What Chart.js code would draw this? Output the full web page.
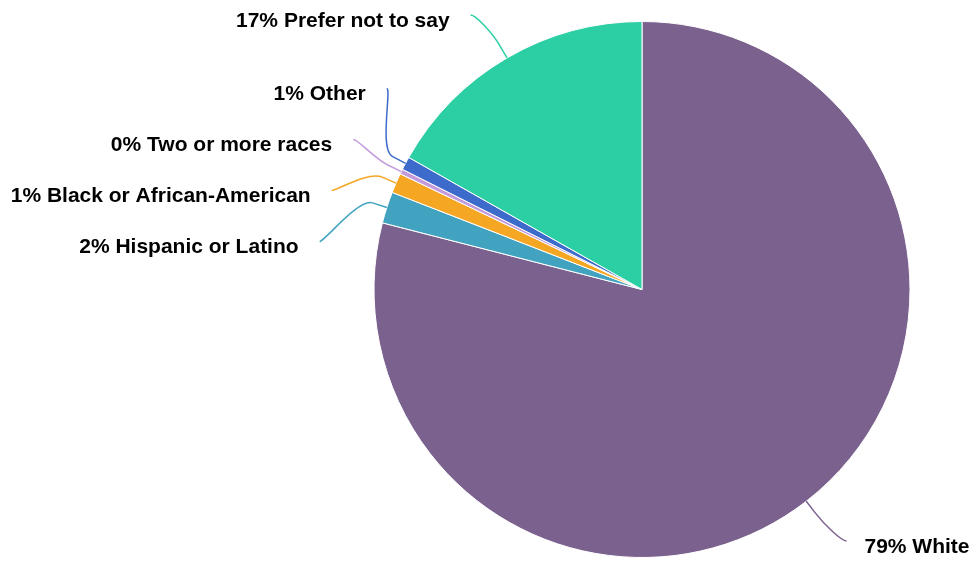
<!DOCTYPE html>
<html>
<head>
<meta charset="utf-8">
<script src="https://cdn.jsdelivr.net/npm/chart.js@4/dist/chart.umd.min.js"></script>
<style>
  html, body { margin: 0; padding: 0; background: #ffffff; }
  #wrap { width: 973px; height: 562px; position: relative; }
</style>
</head>
<body>
<div id="wrap"><canvas id="c" width="973" height="562"></canvas></div>
<script>
const categories = ['White', 'Hispanic or Latino', 'Black or African-American', 'Two or more races', 'Other', 'Prefer not to say'];
const shares = [79.0, 1.9, 1.2, 0.3, 0.8, 16.8];
const colors = ['#7b618e', '#41a3c0', '#f5a623', '#c39bdd', '#3d6bcc', '#2ccfa3'];

const labelTexts = categories.map((c, i) => Math.round(shares[i]) + '% ' + c);

const outerLabels = {
  id: 'outerLabels',
  afterDatasetsDraw(chart) {
    const ctx = chart.ctx;
    const meta = chart.getDatasetMeta(0);
    const H = chart.height;
    const items = meta.data.map((arc, i) => {
      const p = arc.getProps(['x', 'y', 'startAngle', 'endAngle', 'outerRadius'], true);
      const mid = (p.startAngle + p.endAngle) / 2;
      const c = Math.cos(mid), s = Math.sin(mid);
      const R = p.outerRadius + 53;
      return { i, cx: p.x, cy: p.y, r: p.outerRadius, c, s, R, left: c < 0, target: p.y + s * R };
    });
    const minY = 15, maxY = H - 21, gap = 51;
    [true, false].forEach(side => {
      const list = items.filter(it => it.left === side).sort((a, b) => a.target - b.target);
      let groups = list.map(it => ({ items: [it], sum: Math.min(Math.max(it.target, minY), maxY) }));
      const place = g => {
        const n = g.items.length;
        let start = g.sum / n - (n - 1) * gap / 2 + (n > 1 ? 5 : 0);
        start = Math.max(minY, Math.min(start, maxY - (n - 1) * gap));
        g.start = start;
      };
      groups.forEach(place);
      let merged = true;
      while (merged) {
        merged = false;
        for (let k = 1; k < groups.length; k++) {
          const a = groups[k - 1], b = groups[k];
          if (a.start + a.items.length * gap > b.start) {
            a.items = a.items.concat(b.items);
            a.sum += b.sum;
            place(a);
            groups.splice(k, 1);
            merged = true;
            break;
          }
        }
      }
      groups.forEach(g => g.items.forEach((it, idx) => { it.y = g.start + idx * gap; }));
    });

    ctx.save();
    items.forEach(it => {
      const dy = it.y - it.cy;
      const dx = Math.sqrt(Math.max(it.R * it.R - dy * dy, 0));
      const ax = it.cx + (it.left ? -dx : dx);
      const ay = it.y;
      const tx = it.cx + it.c * it.r, ty = it.cy + it.s * it.r;
      const bx = it.cx + it.c * (it.r + 15), by = it.cy + it.s * (it.r + 15);
      ctx.beginPath();
      ctx.moveTo(ax + (it.left ? -5 : 5), ay);
      ctx.bezierCurveTo(ax, ay, 2 * bx - tx, 2 * by - ty, bx, by);
      ctx.lineTo(tx, ty);
      ctx.strokeStyle = colors[it.i];
      ctx.lineWidth = 1.5;
      ctx.stroke();

      ctx.font = 'bold 21px "Liberation Sans", Arial, Helvetica, sans-serif';
      ctx.fillStyle = '#000000';
      ctx.textBaseline = 'middle';
      ctx.textAlign = it.left ? 'right' : 'left';
      ctx.fillText(labelTexts[it.i], ax + (it.left ? -26 : 23), ay + 6);
    });
    ctx.restore();
  }
};

new Chart(document.getElementById('c'), {
  type: 'pie',
  data: {
    labels: categories,
    datasets: [{
      data: shares,
      backgroundColor: colors,
      borderColor: '#ffffff',
      borderWidth: 1
    }]
  },
  options: {
    responsive: false,
    animation: false,
    layout: { padding: { left: 373, right: 62, top: 21, bottom: 4 } },
    plugins: {
      legend: { display: false },
      tooltip: { enabled: false }
    }
  },
  plugins: [outerLabels]
});
</script>
</body>
</html>
